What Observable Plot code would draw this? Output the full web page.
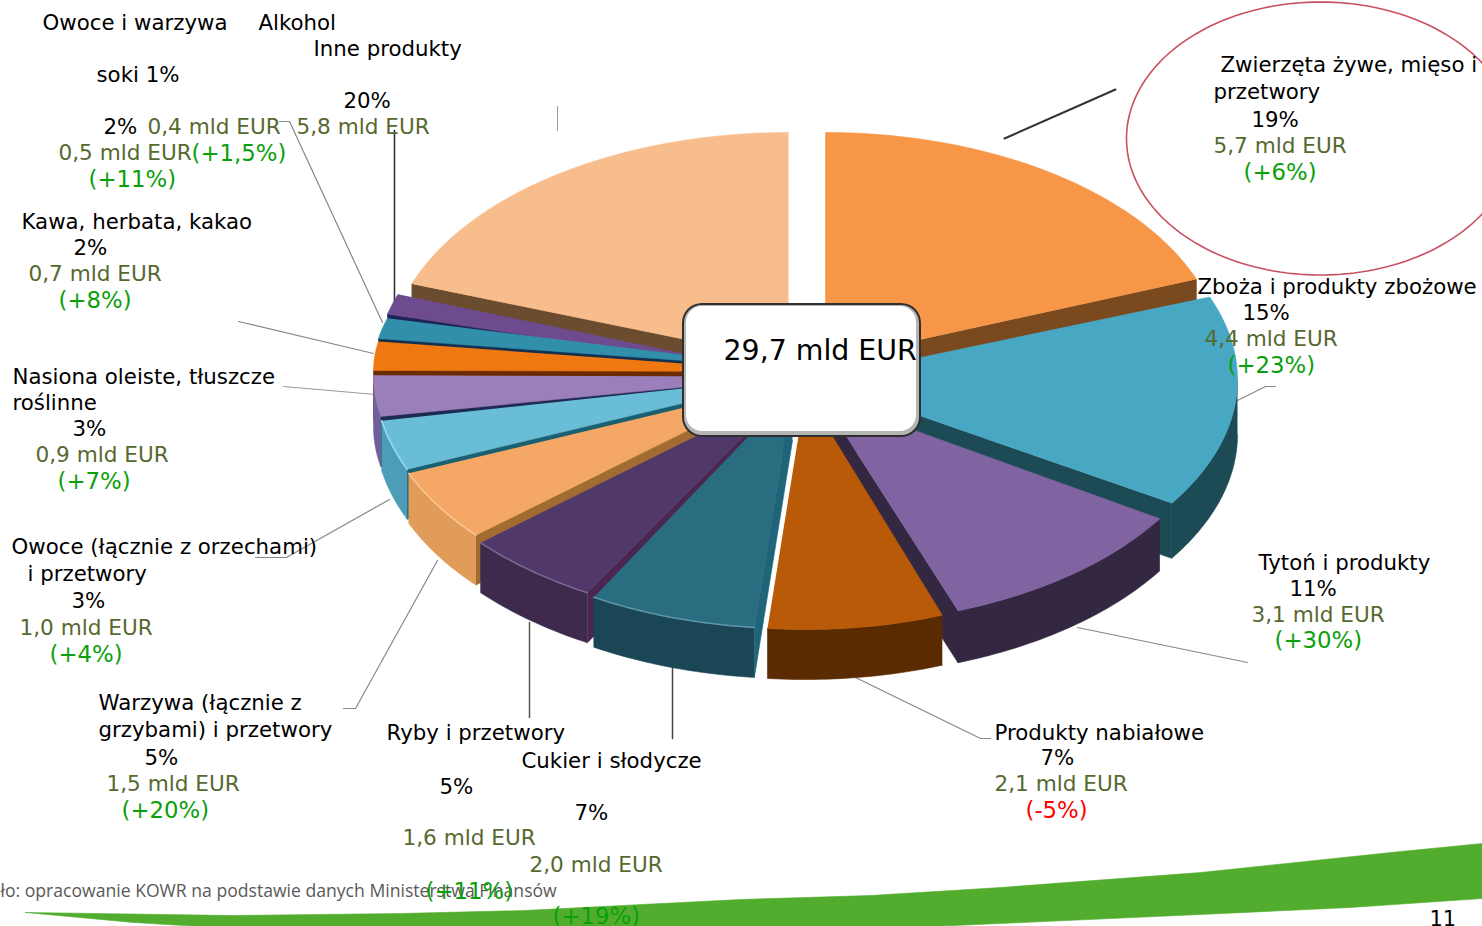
<!DOCTYPE html>
<html lang="pl"><head><meta charset="utf-8">
<script src="https://cdn.jsdelivr.net/npm/d3@7"></script>
<script src="https://cdn.jsdelivr.net/npm/@observablehq/plot@0.6"></script>
<style>html,body{margin:0;padding:0;background:#fff;overflow:hidden}svg{display:block}</style>
</head><body><div id="chart"></div>
<script>
// DATA
const categories = ["Zwierzęta żywe, mięso i przetwory","Zboża i produkty zbożowe","Tytoń i produkty","Produkty nabiałowe","Cukier i słodycze","Ryby i przetwory","Warzywa (łącznie z grzybami) i przetwory","Owoce (łącznie z orzechami) i przetwory","Nasiona oleiste, tłuszcze roślinne","Kawa, herbata, kakao","Owoce i warzywa soki","Alkohol","Inne produkty"];
const values = [5.7,4.4,3.1,2.1,2.0,1.6,1.5,1.0,0.9,0.7,0.5,0.4,5.8];

// LABEL TEXT, one table row per printed line: text, left x, middle y, kind
const labelText = ["Owoce i warzywa","Alkohol","Inne produkty","soki 1%","20%","2%","0,4 mld EUR","5,8 mld EUR","0,5 mld EUR","(+1,5%)","(+11%)",
"Kawa, herbata, kakao","2%","0,7 mld EUR","(+8%)",
"Nasiona oleiste, tłuszcze","roślinne","3%","0,9 mld EUR","(+7%)",
"Owoce (łącznie z orzechami)","i przetwory","3%","1,0 mld EUR","(+4%)",
"Warzywa (łącznie z","grzybami) i przetwory","5%","1,5 mld EUR","(+20%)",
"Ryby i przetwory","5%","1,6 mld EUR","(+11%)",
"Cukier i słodycze","7%","2,0 mld EUR","(+19%)",
"Produkty nabiałowe","7%","2,1 mld EUR","(-5%)",
"Tytoń i produkty","11%","3,1 mld EUR","(+30%)",
"Zboża i produkty zbożowe","15%","4,4 mld EUR","(+23%)",
"Zwierzęta żywe, mięso i","przetwory","19%","5,7 mld EUR","(+6%)"];
const labelX = [42,258,313,96,343,103,147,296,58,191,88, 21,73,28,58, 12,12,72,35,57, 11,27,71,19,49, 98,98,144,106,121, 386,439,402,425, 521,574,529,552, 994,1040,994,1025, 1258,1289,1251,1274, 1197,1242,1204,1227, 1220,1213,1251,1213,1243];
const labelY = [23,23,49,75,101,127,127,127,153,153,179, 222,248,274,300, 377,403,429,455,481, 547,574,601,628,654, 703,730,758,784,810, 733,787,838,891, 761,813,865,916, 733,758,784,810, 563,589,615,640, 287,313,339,365, 65,92,120,146,172];
const labelKind = ["n","n","n","n","n","n","v","v","v","c","c", "n","n","v","c", "n","n","n","v","c", "n","n","n","v","c", "n","n","n","v","c", "n","n","v","c", "n","n","v","c", "n","n","v","r", "n","n","v","c", "n","n","v","c", "n","n","n","v","c"];
const totalLabel = "29,7 mld EUR";
const sourceNote = "ło: opracowanie KOWR na podstawie danych Ministerstwa Finansów";
const pageNumber = "11";

// STYLE & LAYOUT
const kindColor = {n:"#000000", v:"#56692f", c:"#0aa00a", r:"#ff0000"};
const kindSize = {n:21.3, v:21.6, c:22.8, r:22.8};
const faceColor = ["#f79646","#48a8c4","#8064a2","#b85a08","#2a6d80","#51386b","#f5a865","#6abdd6","#9b7fbb","#f07810","#328fac","#6d4b8e","#f8bd8c"];
const wallColor = ["#7a4a1e","#1c4a55","#332741","#5a2a00","#1a4656","#3d2a4c","#e09c58","#4d9cb8","#6f5f9a","#b05a10","#24708a","#4f3670","#b08a66"];
const edgeColor = ["#7a4a1e","#1c4a55","#332741",null,"#1f6479","#4a2650","#a06c30","#1b5f70","#1d2a52","#6b2a00","#14304f","#1f2456","#6b4c2e"];
const rimColor  = [null,null,null,null,"#5f97a8","#7c6a92","#f9c796","#9adcf0",null,null,null,null,null];
// Each exploded slice's ellipse: centre and radii (perspective makes them differ)
const sliceCx = [825,815,820,805,792,790,780,794,793,793,793,793,788];
const sliceCy = [360,379,396,392,390,389,384,376,376,371,368,376,360];
const sliceRx = [397,422,402,400,401,410,403,420,420,420,420,420,400];
const sliceRy = [228,231,228,237,238,234,230,240,217,196,196,244,228];
const wallDepth = [50,55,52,50,50,50,50,50,50,50,50,50,50];
const paintOrder = [0,12,1,11,10,9,8,2,7,6,5,3,4];

const arcs = d3.pie().sort(null).value(d => d)(values);
function pt(i,t,dy=0){ return {x:sliceCx[i]+sliceRx[i]*Math.sin(t), y:sliceCy[i]-sliceRy[i]*Math.cos(t)+dy}; }
function arcPts(i,t0,t1,dy=0){ const n=Math.max(2,Math.ceil(Math.abs(t1-t0)*60)); return d3.range(n+1).map(k=>pt(i,t0+(t1-t0)*k/n,dy)); }
function poly(points,fill,stroke){ return Plot.line(points,{x:"x",y:"y",fill,stroke:stroke||fill,strokeWidth:0.6,curve:"linear"}); }

const pieMarks = [];
for (const i of paintOrder) {
  const {startAngle:t0,endAngle:t1} = arcs[i];
  const c = {x:sliceCx[i],y:sliceCy[i]};
  const depth = wallDepth[i];
  // radial cut face: clockwise end on the right half, start on the left half
  if (edgeColor[i]) {
    const t = i<=2 ? t1 : t0;
    pieMarks.push(poly([c,pt(i,t),pt(i,t,depth),{x:c.x,y:c.y+depth}],edgeColor[i]));
  }
  // outer rim wall (only the front half is seen)
  const a=Math.max(t0,Math.PI/2), b=Math.min(t1,1.5*Math.PI);
  if (b>a) pieMarks.push(poly([...arcPts(i,a,b),...arcPts(i,b,a,depth)],wallColor[i]));
  // top face
  pieMarks.push(poly([c,...arcPts(i,t0,t1)],faceColor[i]));
  if (rimColor[i]) pieMarks.push(Plot.line(arcPts(i,t0,t1),{x:"x",y:"y",stroke:rimColor[i],strokeWidth:1.5}));
}

// Leader lines: [points], colour, width
const leaders = [
 [[[1004,138],[1115,89]],"#333",2],
 [[[557,106],[557,130]],"#999",1],
 [[[394,130],[394,320]],"#333",1.6],
 [[[279,121],[289,121],[382,322]],"#888",1.2],
 [[[238,321],[373,353]],"#888",1.2],
 [[[283,386],[375,394]],"#999",1.2],
 [[[255,557],[286,557],[389,499]],"#888",1.2],
 [[[343,708],[355,708],[437,560]],"#888",1.2],
 [[[529,622],[529,717]],"#555",1.5],
 [[[672,666],[672,738]],"#444",1.5],
 [[[1077,627],[1247,662]],"#888",1.2],
 [[[855,677],[980,738],[990,738]],"#888",1.2],
 [[[1237,400],[1265,386],[1275,386]],"#888",1.2]
].map(([p,stroke,strokeWidth]) => Plot.line(p.map(([x,y])=>({x,y})),{x:"x",y:"y",stroke,strokeWidth}));

// decorative ellipse round the highlighted label
const ringPts = d3.range(0,361,2).map(a=>({x:1320+194*Math.cos(a*Math.PI/180),y:138+136.5*Math.sin(a*Math.PI/180)}));

// decorative green swoosh at the page foot
const swooshTop = [[25,912],[233,915],[400,913],[523,910],[740,899],[870,895],[1000,887],[1200,872],[1400,851],[1482,843]];
const swooshBottom = [[1482,898],[1350,907],[1200,914],[1000,923],[930,926],[200,926],[133,922],[25,912]];
const swoosh = [...swooshTop,...swooshBottom].map(([x,y])=>({x,y}));

const rows = labelText.map((text,i)=>({text,x:labelX[i],y:labelY[i],color:kindColor[labelKind[i]],size:kindSize[labelKind[i]]}));
const font = "DejaVu Sans, Verdana, sans-serif";
const textByKind = k => Plot.text(rows.filter((r,i)=>labelKind[i]===k),{x:"x",y:"y",text:"text",fill:"color",textAnchor:"start",fontSize:kindSize[k],fontFamily:font});

const chart = Plot.plot({
  width:1482,height:926,margin:0,
  x:{domain:[0,1482],range:[0,1482],axis:null},
  y:{domain:[0,926],range:[0,926],axis:null},
  style:{background:"#fff",overflow:"hidden"},
  marks:[
    poly(swoosh,"#52ad2f"),
    Plot.text([sourceNote],{x:0,y:891,text:d=>d,textAnchor:"start",fill:"#595959",fontSize:17.6,fontFamily:"Open Sans, sans-serif"}),
    Plot.line(ringPts,{x:"x",y:"y",stroke:"#c8505f",strokeWidth:1.6}),
    ...leaders,
    ...pieMarks,
    Plot.rect([0],{x1:[682],x2:[921],y1:[303],y2:[437],fill:"#2f2f2f",rx:20,ry:20}),
    Plot.rect([0],{x1:[684],x2:[919],y1:[305],y2:[435],fill:"#b5b5b5",rx:18,ry:18}),
    Plot.rect([0],{x1:[686],x2:[916],y1:[306],y2:[431],fill:"#ffffff",rx:16,ry:16}),
    Plot.text([totalLabel],{x:723,y:350,text:d=>d,textAnchor:"start",fill:"#000",fontSize:28.4,fontFamily:font}),
    textByKind("n"),textByKind("v"),textByKind("c"),textByKind("r"),
    Plot.text([pageNumber],{x:1429,y:919,text:d=>d,textAnchor:"start",fill:"#000",fontSize:21,fontFamily:font})
  ]
});
document.getElementById("chart").append(chart);
</script></body></html>
